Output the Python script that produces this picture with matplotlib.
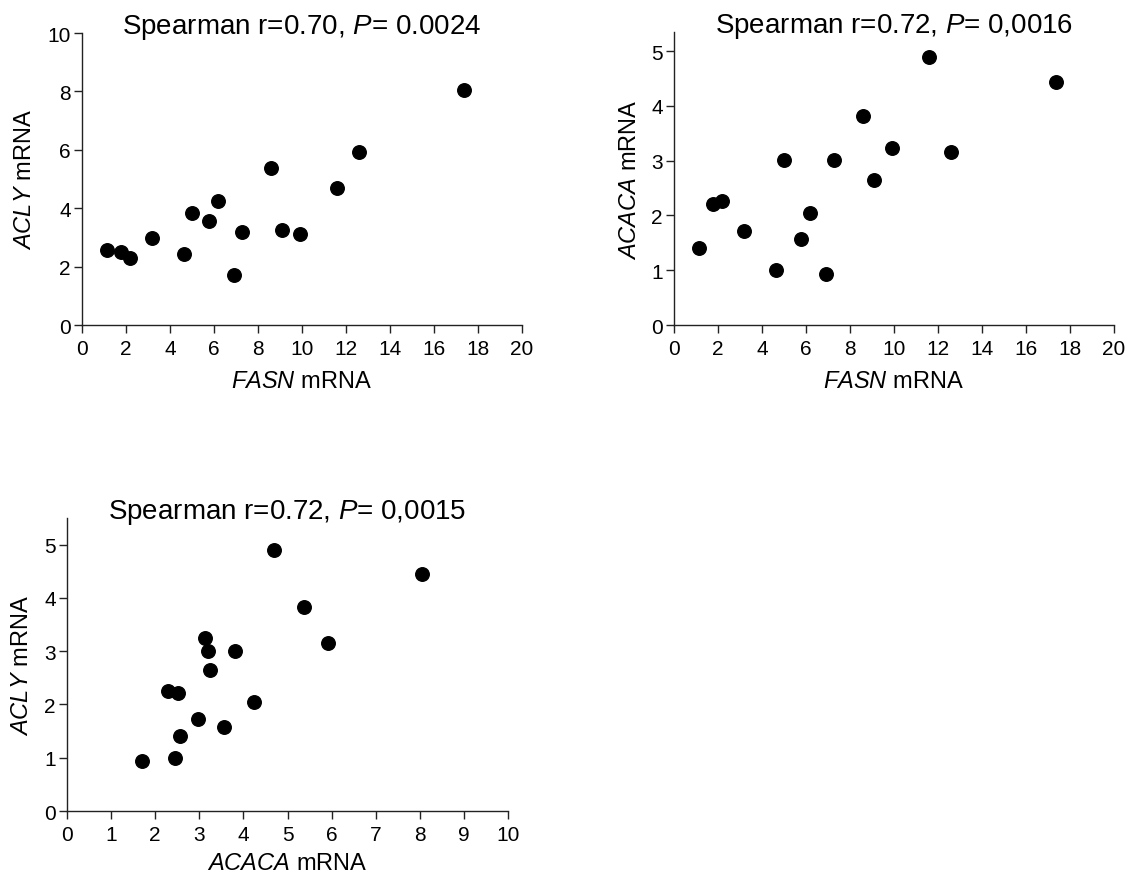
import numpy as np
import matplotlib
matplotlib.use('Agg')
import matplotlib.pyplot as plt

plt.rcParams['font.family'] = ['Liberation Sans', 'DejaVu Sans']
plt.rcParams['mathtext.fontset'] = 'custom'
plt.rcParams['mathtext.rm'] = 'Liberation Sans'
plt.rcParams['mathtext.it'] = 'Liberation Sans:italic'

# values (one entry per sample)
fasn = [1.15, 1.77, 2.16, 3.20, 4.62, 5.01, 5.76, 6.18, 6.93, 7.28, 8.58, 9.10, 9.91, 11.57, 12.60, 17.37]
acly = [2.56, 2.51, 2.28, 2.98, 2.44, 3.82, 3.55, 4.24, 1.71, 3.19, 5.38, 3.25, 3.13, 4.69, 5.92, 8.06]
acaca = [1.41, 2.21, 2.26, 1.72, 1.00, 3.01, 1.57, 2.04, 0.94, 3.01, 3.82, 2.65, 3.24, 4.89, 3.16, 4.44]

titles = ['Spearman r=0.70, $\\it{P}$= 0.0024',
          'Spearman r=0.72, $\\it{P}$= 0,0016',
          'Spearman r=0.72, $\\it{P}$= 0,0015']

W, H = 1129, 879
fig = plt.figure(figsize=(W / 100, H / 100), dpi=100)


def make_ax(x0, x1, y0, y1):
    # pixel box -> figure fraction
    return fig.add_axes([x0 / W, 1 - y0 / H, (x1 - x0) / W, (y0 - y1) / H])


def style(ax, xlim, xticks, ylim, yticks, title):
    ax.set_xlim(*xlim)
    ax.set_ylim(*ylim)
    ax.set_xticks(xticks)
    ax.set_yticks(yticks)
    for s in ['top', 'right']:
        ax.spines[s].set_visible(False)
    for s in ['left', 'bottom']:
        ax.spines[s].set_linewidth(1.0)
        ax.spines[s].set_color('#222222')
    ax.tick_params(axis='both', direction='out', length=6, width=1.0,
                   color='#222222', labelsize=15)
    ax.tick_params(axis='x', pad=4)
    ax.tick_params(axis='y', pad=2)
    ax.text(0.5, 1.0, title, transform=ax.transAxes, ha='center',
            va='baseline', fontsize=20)


ax1 = make_ax(82, 522, 326, 34)
ax1.scatter(fasn, acly, s=95, color='black', zorder=3, clip_on=False)
style(ax1, (0, 20), np.arange(0, 21, 2), (0, 10), np.arange(0, 11, 2), titles[0])
ax1.set_xlabel('$\\it{FASN}$ mRNA', fontsize=17, labelpad=9)
ax1.set_ylabel('$\\it{ACLY}$ mRNA', fontsize=17, labelpad=8)

ax2 = make_ax(674, 1114, 326, 33)
ax2.scatter(fasn, acaca, s=95, color='black', zorder=3, clip_on=False)
style(ax2, (0, 20), np.arange(0, 21, 2), (0, 5.35), np.arange(0, 6, 1), titles[1])
ax2.set_xlabel('$\\it{FASN}$ mRNA', fontsize=17, labelpad=9)
ax2.set_ylabel('$\\it{ACACA}$ mRNA', fontsize=17, labelpad=7)

ax3 = make_ax(67, 508, 812, 519)
ax3.scatter(acly, acaca, s=95, color='black', zorder=3, clip_on=False)
style(ax3, (0, 10), np.arange(0, 11, 1), (0, 5.5), np.arange(0, 6, 1), titles[2])
ax3.set_xlabel('$\\it{ACACA}$ mRNA', fontsize=17, labelpad=6)
ax3.set_ylabel('$\\it{ACLY}$ mRNA', fontsize=17, labelpad=8)

fig.savefig('out.png', dpi=100)
